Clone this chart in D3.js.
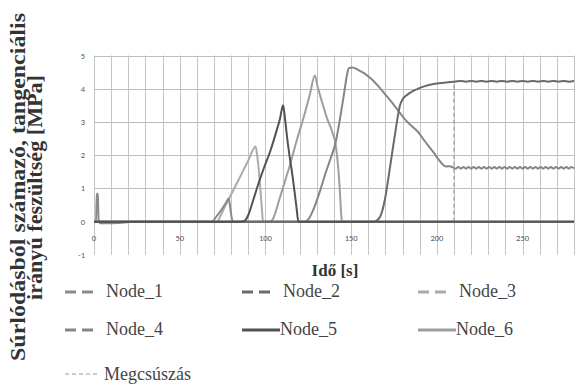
<!DOCTYPE html>
<html><head><meta charset="utf-8">
<script src="https://cdn.jsdelivr.net/npm/d3@7"></script>
<style>body{margin:0;background:#fff}</style>
</head><body><svg id="c" width="578" height="392"></svg>
<script>
// ---- data ----
const seriesNames = ["Node_1","Node_2","Node_3","Node_4","Node_5","Node_6"];
const xTicks = [0,50,100,150,200,250];
const yTicks = [-1,0,1,2,3,4,5];
const node1 = [[0,0],[1.2,0],[1.6,0.85],[2.2,0.82],[2.7,0.05],[3.5,-0.05],[8,-0.05],[14,-0.04],[19,-0.02],[23,0],
  [68.8,0],[71,0.13],[74,0.33],[77,0.57],[78.6,0.70],[79.5,0.4],[80.3,0.12],[81,0],[280,0]];
const node2 = [[0,0],[163.3,0],[166,0.08],[168,0.3],[170,0.75],[172,1.4],[174,2.1],[175.5,2.6],[177,3.1],[178.5,3.5],
  [180,3.68],[183,3.83],[186,3.93],[189,4.0],[192.6,4.07],[196,4.12],[200,4.16],[204.3,4.18],[208,4.2],[211,4.22],
  [214,4.235],[217,4.21],[220,4.235],[223,4.21],[226,4.235],[229,4.21],[232,4.235],[235,4.21],[238,4.235],[241,4.21],
  [244,4.235],[247,4.21],[250,4.235],[253,4.21],[256,4.235],[259,4.21],[262,4.235],[265,4.21],[268,4.235],[271,4.21],
  [274,4.235],[277,4.21],[280,4.23]];
const node3 = [[0,0],[71.7,0],[74,0.2],[78,0.62],[82,1.02],[86,1.43],[90,1.84],[94.3,2.26],[95.3,1.95],[96.3,1.45],
  [97.1,0.95],[97.9,0.4],[98.6,0],[280,0]];
const node4 = [[0,0],[123,0],[125,0.07],[127,0.25],[129,0.5],[132,0.95],[135,1.45],[138,1.9],[141,2.4],[143.5,3.1],
  [146,3.9],[147.5,4.4],[148.7,4.62],[150.7,4.64],[154,4.57],[157.5,4.47],[160.5,4.35],[163.3,4.22],[166,4.07],
  [169.2,3.87],[172,3.7],[175,3.51],[178,3.3],[180.9,3.11],[184.8,2.9],[188.7,2.72],[193,2.42],[198.4,2.06],
  [201,1.87],[203.3,1.73],[205.5,1.66],[207.5,1.67],[209.5,1.63],
  [211,1.595],[212.5,1.645],[214,1.595],[215.5,1.645],[217,1.595],[218.5,1.645],[220,1.595],[221.5,1.645],
  [223,1.595],[224.5,1.645],[226,1.595],[227.5,1.645],[229,1.595],[230.5,1.645],[232,1.595],[233.5,1.645],
  [235,1.595],[236.5,1.645],[238,1.595],[239.5,1.645],[241,1.595],[242.5,1.645],[244,1.595],[245.5,1.645],
  [247,1.595],[248.5,1.645],[250,1.595],[251.5,1.645],[253,1.595],[254.5,1.645],[256,1.595],[257.5,1.645],
  [259,1.595],[260.5,1.645],[262,1.595],[263.5,1.645],[265,1.595],[266.5,1.645],[268,1.595],[269.5,1.645],
  [271,1.595],[272.5,1.645],[274,1.595],[275.5,1.645],[277,1.595],[278.5,1.645],[280,1.6]];
const node5 = [[0,0],[86,0],[88,0.03],[90,0.2],[92,0.5],[95,1.0],[99,1.6],[103,2.15],[106,2.65],[108.5,3.1],
  [110.3,3.5],[111.2,3.2],[112.5,2.6],[114,2.0],[115.6,1.45],[117,0.9],[118.3,0.35],[119.2,0],[280,0]];
const node6 = [[0,0],[102,0],[104,0.05],[106,0.3],[108,0.65],[111,1.15],[114.6,1.76],[118,2.4],[122.4,3.16],
  [126,3.85],[128.8,4.4],[130.5,4.05],[133,3.6],[136,3.1],[139,2.7],[141,2.3],[142.5,1.6],[143.5,0.85],
  [144.1,0.3],[144.6,0],[280,0]];
const slipTime = [210];
const slipRange = [0, 4.22];
const slipName = "Megcsúszás";

// ---- styles ----
const colors = {Node_1:"#8a8a8a",Node_2:"#6a6a6a",Node_3:"#ababab",Node_4:"#858585",Node_5:"#525252",Node_6:"#9e9e9e"};
const legendDash = {Node_1:"11,6",Node_2:"11,6",Node_3:"11,6",Node_4:"11,6",Node_5:null,Node_6:null};
const dataByName = {Node_1:node1,Node_2:node2,Node_3:node3,Node_4:node4,Node_5:node5,Node_6:node6};
const drawOrder = ["Node_3","Node_1","Node_6","Node_4","Node_2","Node_5"];

const svg = d3.select("#c");
const x = d3.scaleLinear().domain([0,280]).range([94,574]);
const y = d3.scaleLinear().domain([-1,5]).range([254.9,55.5]);

// grid
const g = svg.append("g");
g.selectAll("line.v").data(d3.range(0,281,10)).join("line")
  .attr("x1",d=>Math.round(x(d))+0.5).attr("x2",d=>Math.round(x(d))+0.5)
  .attr("y1",y(5)).attr("y2",y(-1)).attr("stroke","#c4c4c4").attr("stroke-width",1);
g.selectAll("line.h").data(d3.range(0,6,1)).join("line")
  .attr("y1",d=>Math.round(y(d))+0.5).attr("y2",d=>Math.round(y(d))+0.5)
  .attr("x1",x(0)).attr("x2",x(280)).attr("stroke","#bdbdbd").attr("stroke-width",1);

// tick labels
svg.append("g").selectAll("text").data(yTicks).join("text")
  .attr("x",85).attr("y",d=>y(d)+3).attr("text-anchor","end")
  .style("font-family","Carlito, 'Liberation Sans', Arial, sans-serif").attr("font-size",8.5).attr("fill","#595959")
  .text(d=>d);
svg.append("g").selectAll("text").data(xTicks).join("text")
  .attr("x",d=>x(d)).attr("y",241).attr("text-anchor","middle")
  .style("font-family","Carlito, 'Liberation Sans', Arial, sans-serif").attr("font-size",8.5).attr("fill","#595959")
  .text(d=>d);

// slip line
svg.append("line").attr("x1",x(slipTime[0])).attr("x2",x(slipTime[0]))
  .attr("y1",y(slipRange[0])).attr("y2",y(slipRange[1]))
  .attr("stroke","#a8a8a8").attr("stroke-width",1.5).attr("stroke-dasharray","4,3");

// series
const line = d3.line().x(d=>x(d[0])).y(d=>y(d[1])).curve(d3.curveMonotoneX);
drawOrder.forEach(n=>{
  svg.append("path").attr("d",line(dataByName[n])).attr("fill","none")
    .attr("stroke",colors[n]).attr("stroke-width",2).attr("stroke-linejoin","round");
});

// axis titles
const serif = "'Liberation Serif', 'Times New Roman', Times, serif";
const yt = svg.append("g").attr("transform","rotate(-90)")
  .style("font-family",serif).attr("font-weight","bold").attr("font-size",21).attr("fill","#333").attr("text-anchor","middle");
yt.append("text").attr("x",-187).attr("y",25).attr("textLength",348).attr("lengthAdjust","spacingAndGlyphs")
  .text("Súrlódásból számazó, tangenciális");
yt.append("text").attr("x",-187.5).attr("y",42).attr("textLength",225).attr("lengthAdjust","spacingAndGlyphs")
  .text("irányú feszültség [MPa]");
svg.append("text").attr("x",335).attr("y",276).attr("text-anchor","middle")
  .style("font-family",serif).attr("font-weight","bold").attr("font-size",17).attr("fill","#333").text("Idő [s]");

// legend
const legPos = [[65,297],[242,297],[418,297],[65,335],[242,335],[418,335]];
seriesNames.forEach((n,i)=>{
  const [lx,ly] = legPos[i];
  const solid = legendDash[n]===null;
  const len = solid ? 38 : 30;
  svg.append("line").attr("x1",lx).attr("x2",lx+len).attr("y1",ly-5).attr("y2",ly-5)
    .attr("stroke",colors[n]).attr("stroke-width",3)
    .attr("stroke-dasharray",legendDash[n]);
  svg.append("text").attr("x",solid? lx+len : lx+41).attr("y",ly)
    .style("font-family",serif).attr("font-size",18).attr("fill","#444").text(n);
});
svg.append("line").attr("x1",65).attr("x2",100).attr("y1",374).attr("y2",374)
  .attr("stroke","#9a9a9a").attr("stroke-width",1).attr("stroke-dasharray","4,3");
svg.append("text").attr("x",104).attr("y",380)
  .style("font-family",serif).attr("font-size",18).attr("fill","#444").text(slipName);
</script></body></html>
